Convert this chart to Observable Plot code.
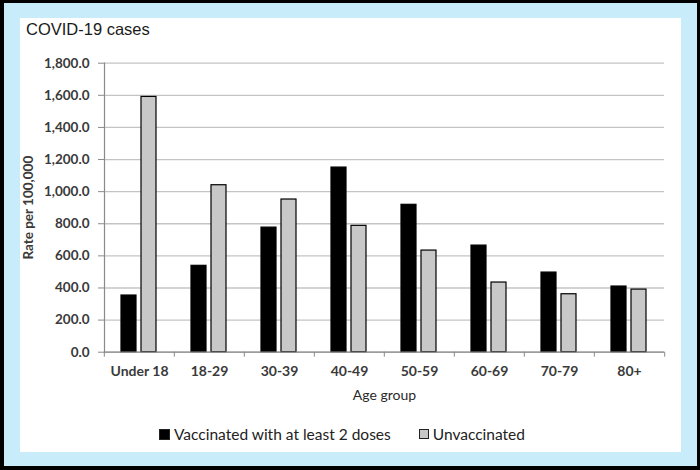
<!DOCTYPE html>
<html>
<head>
<meta charset="utf-8">
<script src="https://cdn.jsdelivr.net/npm/d3@7"></script>
<script src="https://cdn.jsdelivr.net/npm/@observablehq/plot@0.6"></script>
<style>
  body { margin: 0; background: #000; }
  #frame { position: relative; width: 700px; height: 470px; background: #000; overflow: hidden; }
  #blue { position: absolute; left: 4px; top: 3px; width: 693px; height: 463px; background: #c8ecf9; }
  #panel { position: absolute; left: 20px; top: 18px; width: 661px; height: 434px; background: #fff; }
  #title { position: absolute; left: 6px; top: 2px; font: 16.5px "Liberation Sans", Arial, sans-serif; color: #1a1a1a; white-space: nowrap; }
  #chart { position: absolute; left: 0; top: 0; }
  #legend { position: absolute; left: 139px; top: 407px; display: flex; align-items: center; gap: 28px; font: 15.5px Lato, sans-serif; color: #222; white-space: nowrap; }
  .item { display: flex; align-items: center; gap: 4px; }
  .sw { display: inline-block; box-sizing: border-box; }
</style>
</head>
<body>
<div id="frame">
  <div id="blue"></div>
  <div id="panel">
    <div id="chart"></div>
    <div id="title">COVID-19 cases</div>
    <div id="legend"></div>
  </div>
</div>
<script>
const ageGroups = ["Under 18", "18-29", "30-39", "40-49", "50-59", "60-69", "70-79", "80+"];
const vaccinated = [353, 538, 776, 1150, 918, 664, 496, 409];
const unvaccinated = [1590, 1040, 951, 787, 633, 434, 361, 390];
const seriesNames = ["Vaccinated with at least 2 doses", "Unvaccinated"];
const seriesColors = ["#000000", "#c8c8c8"];
const yTicks = [0, 200, 400, 600, 800, 1000, 1200, 1400, 1600, 1800];

const data = ageGroups.flatMap((age, i) => [
  {age, series: seriesNames[0], value: vaccinated[i]},
  {age, series: seriesNames[1], value: unvaccinated[i]}
]);

const W = 661, H = 434, ML = 82, MR = 16, MT = 44.7, MB = 100.3;
const bw = (W - ML - MR) / ageGroups.length;

const chart = Plot.plot({
  width: W, height: H,
  marginLeft: ML, marginRight: MR, marginTop: MT, marginBottom: MB,
  style: {fontFamily: "Lato, sans-serif", background: "transparent", overflow: "visible"},
  fx: {domain: ageGroups, padding: 0, axis: null},
  x: {domain: seriesNames, paddingInner: 0.268, paddingOuter: 0.85, align: 0.473, axis: null},
  y: {domain: [0, 1800], axis: null},
  color: {domain: seriesNames, range: seriesColors},
  marks: [
    Plot.gridY(yTicks, {stroke: "#c4c4c4", strokeOpacity: 1, strokeWidth: 1.3}),
    Plot.barY(data, {fx: "age", x: "series", y: "value", fill: "series", stroke: "#000", strokeWidth: 1.2}),
    Plot.ruleY([0], {stroke: "#8a8a8a", strokeWidth: 1.2}),
    Plot.frame({anchor: "left", facetAnchor: "left", stroke: "#8a8a8a", strokeWidth: 1.2}),
    Plot.axisY(yTicks, {
      anchor: "left", tickSize: 6, tickPadding: 9, tickFormat: d3.format(",.1f"),
      stroke: "#8a8a8a", fill: "#3a3a3a", fontSize: 13.5, fontWeight: "bold",
      label: "Rate per 100,000", labelAnchor: "center", labelOffset: 81, labelArrow: "none"
    }),
    Plot.axisFx({
      anchor: "bottom", tickSize: 5, tickFormat: () => "", dx: -bw / 2,
      stroke: "#8a8a8a", label: null
    }),
    Plot.axisFx({
      anchor: "bottom", facetAnchor: "right", tickSize: 5, tickFormat: () => "", dx: bw / 2,
      stroke: "#8a8a8a", label: null
    }),
    Plot.axisFx({
      anchor: "bottom", tickSize: 0, tickPadding: 13.5,
      fill: "#3a3a3a", fontSize: 14, fontWeight: "bold",
      label: null
    }),
    Plot.axisFx({
      anchor: "bottom", tickSize: 0, tickFormat: () => "",
      fill: "#2a2a2a", fontSize: 14,
      label: "Age group", labelAnchor: "center", labelOffset: 48, labelArrow: "none"
    })
  ]
});
document.getElementById("chart").appendChild(chart);

const legend = document.getElementById("legend");
seriesNames.forEach((name, i) => {
  const item = document.createElement("span");
  item.className = "item";
  const sw = document.createElement("span");
  sw.className = "sw";
  const size = i === 0 ? 11 : 10;
  sw.style.width = size + "px";
  sw.style.height = size + "px";
  sw.style.background = seriesColors[i];
  sw.style.border = "1px solid #222";
  const label = document.createElement("span");
  label.textContent = name;
  item.appendChild(sw);
  item.appendChild(label);
  legend.appendChild(item);
});
</script>
</body>
</html>
